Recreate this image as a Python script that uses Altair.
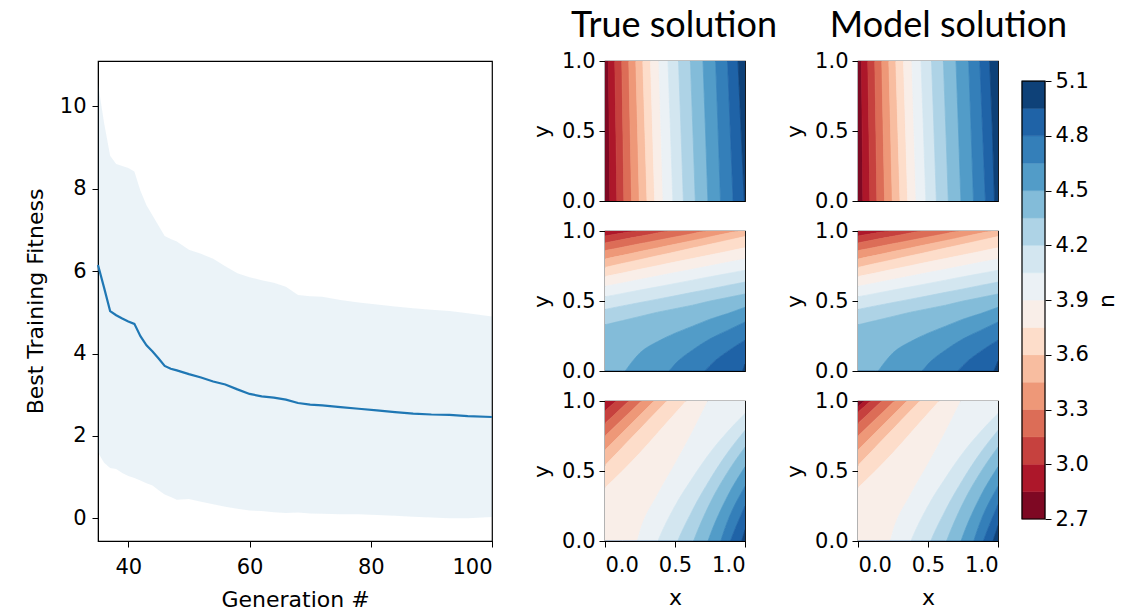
import altair as alt
import pandas as pd

# ---------------- left panel: fitness curve ----------------
GEN = [35, 36, 37, 38, 39, 40, 41, 42, 43, 44, 45, 46, 47, 48, 50, 52, 54, 56, 58, 60,
       62, 64, 66, 68, 70, 72, 75, 78, 81, 84, 87, 90, 93, 96, 100]
MEAN = [6.15, 5.6, 5.03, 4.93, 4.85, 4.78, 4.72, 4.42, 4.2, 4.05, 3.88, 3.70, 3.63, 3.59, 3.50,
        3.42, 3.32, 3.25, 3.13, 3.02, 2.96, 2.93, 2.88, 2.80, 2.76, 2.74, 2.70, 2.66, 2.62, 2.58,
        2.54, 2.52, 2.51, 2.48, 2.46]
UPPER = [10.55, 9.6, 8.8, 8.6, 8.55, 8.5, 8.42, 7.95, 7.6, 7.35, 7.1, 6.85, 6.78, 6.72, 6.52,
         6.42, 6.3, 6.12, 5.95, 5.85, 5.78, 5.72, 5.62, 5.42, 5.39, 5.38, 5.3, 5.24, 5.19, 5.14,
         5.1, 5.06, 5.03, 4.98, 4.9]
LOWER = [1.6, 1.35, 1.22, 1.2, 1.1, 1.03, 0.98, 0.92, 0.85, 0.8, 0.68, 0.58, 0.52, 0.45, 0.47,
         0.4, 0.34, 0.28, 0.23, 0.19, 0.18, 0.15, 0.13, 0.14, 0.12, 0.11, 0.10, 0.10, 0.08, 0.06,
         0.04, 0.02, 0.0, 0.0, 0.03]

# ---------------- contour levels / colour bar ----------------
LEVELS = [2.7, 2.85, 3.0, 3.15, 3.3, 3.45, 3.6, 3.75, 3.9, 4.05, 4.2, 4.35, 4.5, 4.65, 4.8, 4.95, 5.1]
CBAR_TICKS = [2.7, 3.0, 3.3, 3.6, 3.9, 4.2, 4.5, 4.8, 5.1]
COLORS = ["#7e0823", "#ad172a", "#c6413e", "#dc6d57", "#ee9878", "#f8bda0", "#fdddca", "#f9eee8",
          "#ebf1f5", "#d3e6f0", "#aed3e6", "#83bcd9", "#529cc8", "#347fb9", "#1f63a7", "#0e4178"]

# Row 1: contour boundaries (levels 2.85 ... 4.95) given as x position at y = 0, 0.5, 1
ROW1_Y = [0.0, 0.5, 1.0]
TRUE_ROW1 = [
    [0.035, 0.030, 0.025], [0.085, 0.078, 0.070], [0.135, 0.128, 0.120], [0.190, 0.180, 0.170],
    [0.245, 0.233, 0.220], [0.300, 0.285, 0.270], [0.355, 0.340, 0.325], [0.415, 0.400, 0.385],
    [0.485, 0.468, 0.450], [0.560, 0.543, 0.525], [0.645, 0.628, 0.610], [0.735, 0.718, 0.700],
    [0.825, 0.808, 0.790], [0.915, 0.895, 0.875], [0.995, 0.972, 0.950],
]
MODEL_ROW1 = [
    [0.035, 0.030, 0.025], [0.085, 0.078, 0.070], [0.135, 0.128, 0.120], [0.190, 0.180, 0.170],
    [0.245, 0.233, 0.220], [0.300, 0.285, 0.270], [0.355, 0.340, 0.325], [0.415, 0.400, 0.385],
    [0.485, 0.468, 0.450], [0.560, 0.543, 0.525], [0.645, 0.628, 0.610], [0.735, 0.718, 0.700],
    [0.825, 0.808, 0.790], [0.910, 0.890, 0.870], [0.975, 0.960, 0.940],
]

# Rows 2 and 3: boundaries given as y position at these x values
GRID_X = [0.0, 0.125, 0.25, 0.375, 0.5, 0.625, 0.75, 0.875, 1.0]
TRUE_ROW2 = [
    [1.01, 1.03, 1.05, 1.075, 1.10, 1.125, 1.15, 1.175, 1.20],
    [0.965, 0.985, 1.005, 1.03, 1.055, 1.08, 1.105, 1.13, 1.155],
    [0.915, 0.939, 0.962, 0.986, 1.01, 1.034, 1.058, 1.082, 1.105],
    [0.86, 0.884, 0.909, 0.933, 0.957, 0.981, 1.006, 1.03, 1.054],
    [0.80, 0.826, 0.853, 0.879, 0.905, 0.931, 0.958, 0.984, 1.01],
    [0.74, 0.768, 0.795, 0.823, 0.85, 0.878, 0.905, 0.933, 0.96],
    [0.675, 0.70, 0.726, 0.752, 0.778, 0.803, 0.829, 0.854, 0.88],
    [0.605, 0.629, 0.654, 0.678, 0.703, 0.727, 0.751, 0.776, 0.80],
    [0.53, 0.554, 0.578, 0.601, 0.625, 0.649, 0.673, 0.696, 0.72],
    [0.44, 0.465, 0.489, 0.513, 0.537, 0.562, 0.586, 0.611, 0.635],
    [0.33, 0.36, 0.39, 0.42, 0.445, 0.47, 0.50, 0.525, 0.55],
    [-0.25, -0.03, 0.13, 0.21, 0.27, 0.32, 0.37, 0.41, 0.455],
    [-0.85, -0.6, -0.35, -0.12, 0.05, 0.15, 0.23, 0.29, 0.35],
    [-1.35, -1.1, -0.85, -0.6, -0.35, -0.12, 0.04, 0.14, 0.22],
    [-2.4, -2.1, -1.8, -1.5, -1.2, -0.9, -0.6, -0.3, 0.05],
]
MODEL_ROW2 = [
    [1.01, 1.03, 1.05, 1.075, 1.10, 1.125, 1.15, 1.175, 1.20],
    [0.965, 0.985, 1.005, 1.03, 1.055, 1.08, 1.105, 1.13, 1.155],
    [0.915, 0.939, 0.962, 0.986, 1.01, 1.034, 1.058, 1.082, 1.105],
    [0.86, 0.884, 0.909, 0.933, 0.957, 0.981, 1.006, 1.03, 1.054],
    [0.80, 0.826, 0.853, 0.879, 0.905, 0.931, 0.958, 0.984, 1.01],
    [0.74, 0.768, 0.795, 0.823, 0.85, 0.878, 0.905, 0.933, 0.96],
    [0.675, 0.70, 0.726, 0.752, 0.778, 0.803, 0.829, 0.854, 0.88],
    [0.605, 0.629, 0.654, 0.678, 0.703, 0.727, 0.751, 0.776, 0.80],
    [0.53, 0.554, 0.578, 0.601, 0.625, 0.649, 0.673, 0.696, 0.72],
    [0.44, 0.465, 0.489, 0.513, 0.537, 0.562, 0.586, 0.611, 0.635],
    [0.33, 0.36, 0.39, 0.42, 0.445, 0.47, 0.50, 0.525, 0.55],
    [-0.25, -0.03, 0.13, 0.21, 0.27, 0.32, 0.37, 0.41, 0.455],
    [-0.85, -0.6, -0.35, -0.12, 0.05, 0.15, 0.23, 0.29, 0.35],
    [-1.35, -1.1, -0.85, -0.6, -0.35, -0.12, 0.04, 0.14, 0.22],
    [-2.3, -2.0, -1.7, -1.4, -1.1, -0.8, -0.5, -0.22, 0.07],
]
TRUE_ROW3 = [
    [1.02, 1.13, 1.24, 1.35, 1.46, 1.57, 1.68, 1.79, 1.90],
    [0.93, 1.04, 1.15, 1.26, 1.37, 1.48, 1.59, 1.70, 1.81],
    [0.84, 0.957, 1.075, 1.19, 1.31, 1.43, 1.545, 1.66, 1.78],
    [0.75, 0.87, 0.99, 1.11, 1.23, 1.35, 1.47, 1.59, 1.71],
    [0.65, 0.775, 0.90, 1.025, 1.15, 1.275, 1.40, 1.525, 1.65],
    [0.54, 0.67, 0.80, 0.93, 1.06, 1.19, 1.32, 1.45, 1.58],
    [0.38, 0.50, 0.63, 0.77, 0.91, 1.05, 1.19, 1.33, 1.47],
    [-1.0, -0.5, 0.07, 0.33, 0.55, 0.78, 1.03, 1.27, 1.50],
    [-1.2, -0.8, -0.4, -0.01, 0.25, 0.45, 0.63, 0.78, 0.91],
    [-1.65, -1.25, -0.85, -0.45, -0.05, 0.22, 0.44, 0.63, 0.79],
    [-2.0, -1.6, -1.2, -0.8, -0.4, -0.02, 0.27, 0.49, 0.67],
    [-2.4, -2.0, -1.6, -1.15, -0.75, -0.35, 0.04, 0.32, 0.53],
    [-2.8, -2.4, -2.0, -1.5, -1.05, -0.65, -0.25, 0.14, 0.39],
    [-3.2, -2.8, -2.4, -1.9, -1.4, -0.95, -0.5, -0.06, 0.25],
    [-3.6, -3.2, -2.8, -2.3, -1.8, -1.3, -0.8, -0.35, 0.08],
]
MODEL_ROW3 = [
    [0.96, 1.07, 1.18, 1.29, 1.40, 1.51, 1.62, 1.73, 1.84],
    [0.92, 1.03, 1.14, 1.25, 1.36, 1.47, 1.58, 1.69, 1.80],
    [0.84, 0.957, 1.075, 1.19, 1.31, 1.43, 1.545, 1.66, 1.78],
    [0.75, 0.87, 0.99, 1.11, 1.23, 1.35, 1.47, 1.59, 1.71],
    [0.65, 0.775, 0.90, 1.025, 1.15, 1.275, 1.40, 1.525, 1.65],
    [0.54, 0.67, 0.80, 0.93, 1.06, 1.19, 1.32, 1.45, 1.58],
    [0.38, 0.50, 0.63, 0.77, 0.91, 1.05, 1.19, 1.33, 1.47],
    [-1.0, -0.5, 0.07, 0.33, 0.55, 0.78, 1.03, 1.27, 1.50],
    [-1.2, -0.8, -0.4, -0.01, 0.25, 0.45, 0.63, 0.78, 0.91],
    [-1.65, -1.25, -0.85, -0.45, -0.05, 0.22, 0.44, 0.63, 0.79],
    [-2.0, -1.6, -1.2, -0.8, -0.4, -0.02, 0.27, 0.49, 0.67],
    [-2.4, -2.0, -1.6, -1.15, -0.75, -0.35, 0.04, 0.32, 0.53],
    [-2.8, -2.4, -2.0, -1.5, -1.05, -0.65, -0.25, 0.14, 0.39],
    [-3.2, -2.8, -2.4, -1.9, -1.4, -0.95, -0.5, -0.06, 0.26],
    [-3.5, -3.1, -2.7, -2.2, -1.7, -1.2, -0.7, -0.28, 0.11],
]

TICK_FONT = "DejaVu Sans"
LAB_FONT = "DejaVu Sans"
HEAD_FONT = "Lato"


def axis(**kw):
    base = dict(labelFont=TICK_FONT, labelFontSize=21, labelColor="black",
                titleFont=LAB_FONT, titleFontSize=22, titleColor="black",
                titleFontWeight="normal", tickColor="black", domainColor="black",
                tickSize=6, labelPadding=4, titlePadding=8, grid=False)
    base.update(kw)
    return alt.Axis(**base)


band_color = alt.Scale(domain=list(range(16)), range=COLORS)
unit = alt.Scale(domain=[0, 1], nice=False, zero=False)


def panel_h(bounds):
    edges = [[0.0] * len(ROW1_Y)] + bounds + [[1.0] * len(ROW1_Y)]
    rows = []
    for b in range(16):
        for j, yv in enumerate(ROW1_Y):
            rows.append({"band": b, "y": yv, "x": edges[b][j], "x2": edges[b + 1][j]})
    df = pd.DataFrame(rows)
    return alt.Chart(df).mark_area(orient="horizontal", interpolate="monotone", clip=True,
                                   strokeWidth=0.7).encode(
        y=alt.Y("y:Q", scale=unit, axis=axis(values=[0, 0.5, 1], format=".1f", title="y")),
        x=alt.X("x:Q", scale=unit, axis=None, stack=None),
        x2="x2:Q",
        color=alt.Color("band:O", scale=band_color, legend=None),
        stroke=alt.Stroke("band:O", scale=band_color, legend=None),
    ).properties(width=140, height=140)


def panel_v(bounds, show_x):
    edges = [[1.0] * len(GRID_X)] + bounds + [[0.0] * len(GRID_X)]
    rows = []
    for b in range(16):
        for j, xv in enumerate(GRID_X):
            rows.append({"band": b, "x": xv, "y": edges[b][j], "y2": edges[b + 1][j]})
    df = pd.DataFrame(rows)
    xax = axis(values=[0, 0.5, 1], format=".1f", title="x", labelPadding=7,
               titlePadding=12) if show_x else None
    return alt.Chart(df).mark_area(interpolate="monotone", clip=True, strokeWidth=0.7).encode(
        x=alt.X("x:Q", scale=unit, axis=xax),
        y=alt.Y("y:Q", scale=unit, axis=axis(values=[0, 0.5, 1], format=".1f", title="y"), stack=None),
        y2="y2:Q",
        color=alt.Color("band:O", scale=band_color, legend=None),
        stroke=alt.Stroke("band:O", scale=band_color, legend=None),
    ).properties(width=140, height=140)


# left chart
fit = pd.DataFrame({"gen": GEN, "mean": MEAN, "lo": LOWER, "hi": UPPER})
xs = alt.Scale(domain=[35, 100], nice=False, zero=False)
ys = alt.Scale(domain=[-0.55, 11.1], nice=False, zero=False)
band = alt.Chart(fit).mark_area(color="#1f77b4", opacity=0.09).encode(
    x=alt.X("gen:Q", scale=xs, axis=axis(values=[40, 60, 80, 100], title="Generation #",
                                         labelPadding=9, titlePadding=12)),
    y=alt.Y("lo:Q", scale=ys, axis=axis(values=[0, 2, 4, 6, 8, 10], title="Best Training Fitness",
                                        labelPadding=6, titlePadding=12)),
    y2="hi:Q",
)
line = alt.Chart(fit).mark_line(color="#1f77b4", strokeWidth=2.2).encode(x="gen:Q", y="mean:Q")
left = alt.layer(band, line).properties(width=394, height=480)

# colour bar (scale padded so the bar sits inset from the panel column)
cbd = pd.DataFrame({"band": list(range(16)), "lo": LEVELS[:-1], "hi": LEVELS[1:]})
frame = pd.DataFrame({"lo": [LEVELS[0]], "hi": [LEVELS[-1]]})
cscale = alt.Scale(domain=[2.585, 5.21], nice=False, zero=False)
cbar_rects = alt.Chart(cbd).mark_rect(strokeWidth=0.5).encode(
    y=alt.Y("lo:Q", scale=cscale,
            axis=axis(orient="right", values=CBAR_TICKS, format=".1f", title="n", titleAngle=270,
                      titleBaseline="top", titlePadding=8, domain=False)),
    y2="hi:Q",
    color=alt.Color("band:O", scale=band_color, legend=None),
    stroke=alt.Stroke("band:O", scale=band_color, legend=None),
)
cbar_frame = alt.Chart(frame).mark_rect(fillOpacity=0, stroke="black", strokeWidth=1.2).encode(
    y=alt.Y("lo:Q", scale=cscale), y2="hi:Q")
cbar = alt.layer(cbar_rects, cbar_frame).properties(
    width=23, height=479, view=alt.ViewBackground(stroke="transparent"))

col1 = alt.vconcat(panel_h(TRUE_ROW1), panel_v(TRUE_ROW2, False), panel_v(TRUE_ROW3, True),
                   spacing=7).properties(
    title=alt.TitleParams("True solution", font=HEAD_FONT, fontSize=36, fontWeight="normal",
                          anchor="middle", offset=4, dx=36, color="black"))
col2 = alt.vconcat(panel_h(MODEL_ROW1), panel_v(MODEL_ROW2, False), panel_v(MODEL_ROW3, True),
                   spacing=7)
right = alt.hconcat(col2, cbar, spacing=20).properties(
    title=alt.TitleParams("Model solution", font=HEAD_FONT, fontSize=36, fontWeight="normal",
                          anchor="middle", offset=4, dx=-2, color="black"))
mid = alt.hconcat(col1, right, spacing=5)

chart = alt.hconcat(left, mid, spacing=33).properties(
    padding={"left": 15, "top": 0, "right": 0, "bottom": 0}
).configure_view(stroke="black", strokeWidth=1.2)

chart.save("out.html", embed_options={"renderer": "svg", "actions": False})
